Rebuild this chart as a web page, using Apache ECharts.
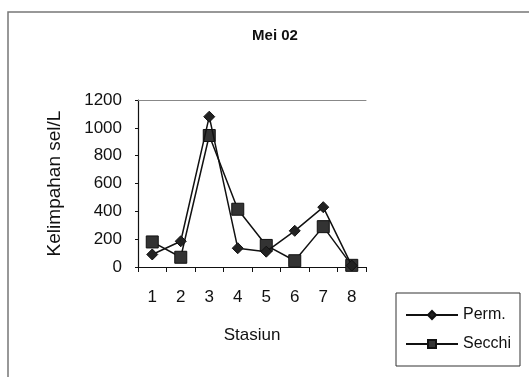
<!DOCTYPE html>
<html><head><meta charset="utf-8">
<script src="https://cdn.jsdelivr.net/npm/echarts@6/dist/echarts.min.js"></script>
<style>html,body{margin:0;padding:0;background:#fff}#c{width:529px;height:377px}</style>
</head><body><div id="c"></div>
<script>
const titleText = 'Mei 02';
const categories = ['1','2','3','4','5','6','7','8'];
const permValues = [90, 185, 1080, 135, 110, 260, 430, 10];
const secchiValues = [180, 70, 945, 415, 155, 45, 290, 12];
const seriesNames = ['Perm.', 'Secchi'];
const xName = 'Stasiun';
const yName = 'Kelimpahan sel/L';

const font = '"Liberation Sans", Arial, sans-serif';
const chart = echarts.init(document.getElementById('c'), null, {renderer:'canvas'});
chart.setOption({
  animation:false,
  backgroundColor:'#fff',
  title:{text:titleText,left:270,top:23,textAlign:'center',
    textStyle:{fontFamily:font,fontSize:15,fontWeight:'bold',color:'#111'}},
  graphic:[
    {type:'rect',shape:{x:8,y:12,width:540,height:380},
     style:{fill:'none',stroke:'#777',lineWidth:1.5},z:-1},
    {type:'rect',shape:{x:396,y:293,width:124,height:73},
     style:{fill:'#fff',stroke:'#333',lineWidth:1},z:0}
  ],
  legend:{
    data:seriesNames,orient:'vertical',left:400,top:302,itemGap:13,
    itemWidth:52,itemHeight:10,
    textStyle:{fontFamily:font,fontSize:16,color:'#111'}
  },
  grid:{left:138,right:163,top:100,bottom:110},
  xAxis:[{
    type:'category',data:categories,boundaryGap:true,
    name:xName,nameLocation:'middle',nameGap:60,
    nameTextStyle:{fontFamily:font,fontSize:17,color:'#111'},
    axisLine:{lineStyle:{color:'#111',width:1.2}},
    axisTick:{show:true,length:5,inside:false,lineStyle:{color:'#111'}},
    axisLabel:{fontFamily:font,fontSize:17,color:'#111',margin:22}
  },{
    type:'category',data:categories,position:'top',
    axisLine:{lineStyle:{color:'#888',width:1}},
    axisTick:{show:false},axisLabel:{show:false}
  }],
  yAxis:{
    type:'value',min:0,max:1200,interval:200,
    name:yName,nameLocation:'middle',nameGap:74,
    nameTextStyle:{fontFamily:font,fontSize:19,color:'#111'},
    axisLine:{show:true,lineStyle:{color:'#111',width:1.2}},
    axisTick:{show:true,length:3,lineStyle:{color:'#111'}},
    axisLabel:{fontFamily:font,fontSize:17,color:'#111',margin:16,
      formatter:function(v){return String(v);}},
    splitLine:{show:false}
  },
  series:[
    {name:seriesNames[0],type:'line',data:permValues,symbol:'diamond',symbolSize:11,
     lineStyle:{color:'#111',width:1.5},itemStyle:{color:'#222',borderColor:'#111',borderWidth:1},z:3},
    {name:seriesNames[1],type:'line',data:secchiValues,symbol:'rect',symbolSize:12,
     lineStyle:{color:'#111',width:1.5},itemStyle:{color:'#333',borderColor:'#111',borderWidth:1},z:2}
  ]
});
</script></body></html>
